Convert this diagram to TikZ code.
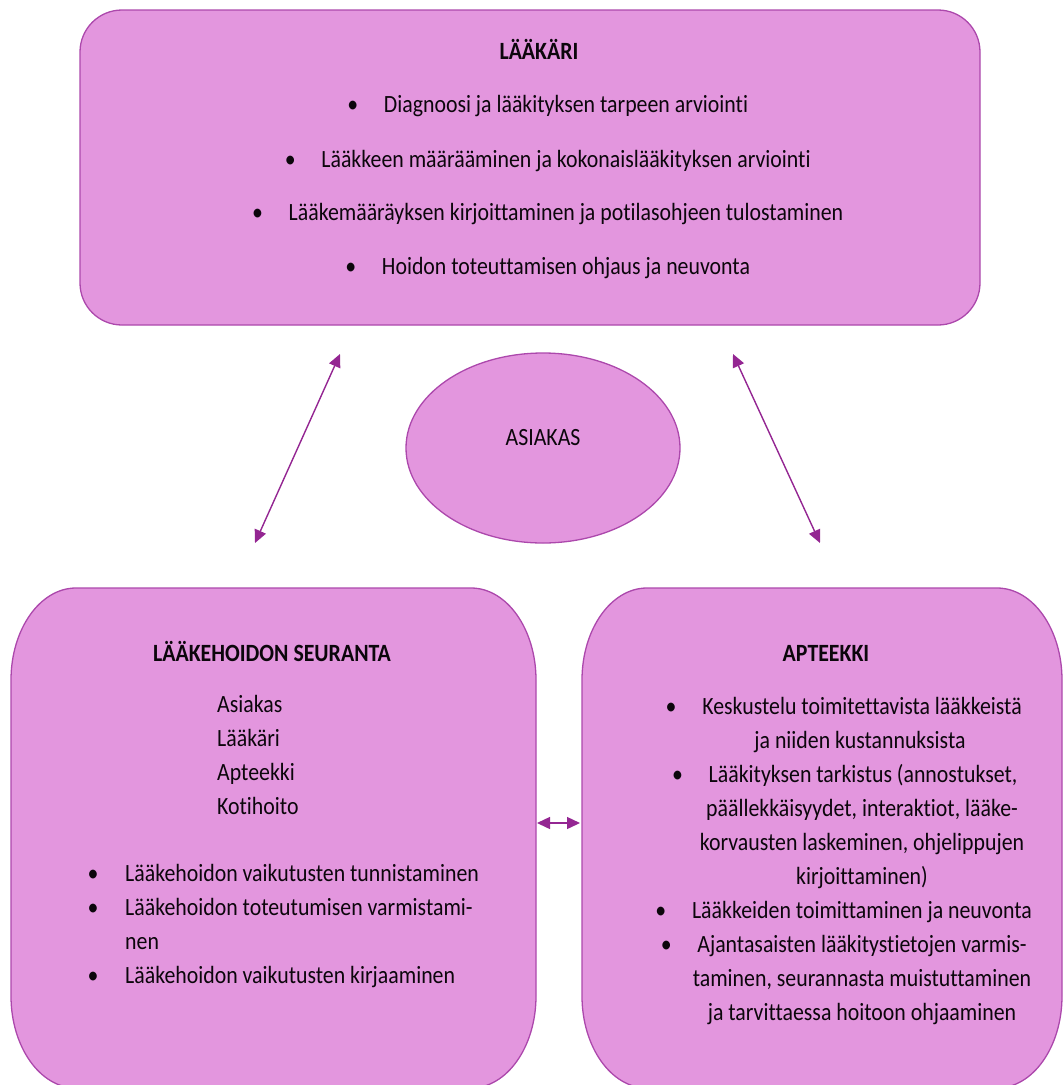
\documentclass[tikz,border=0pt]{standalone}
\usepackage{fontspec}
\setmainfont{Carlito}[FakeStretch=0.88, Ligatures={NoCommon}]
\usetikzlibrary{arrows.meta,shapes.geometric}

\definecolor{panelfill}{RGB}{227,150,222}
\definecolor{panelline}{RGB}{172,72,172}
\definecolor{linkcol}{RGB}{148,38,146}
\definecolor{inkcol}{RGB}{12,6,12}

% rounded rectangle with elliptical corners: left, top, right, bottom, x radius, y radius
\newcommand\roundpanel[6]{%
  (#1+#5,#2) -- (#3-#5,#2)
  arc[start angle=-90,end angle=0,x radius=#5,y radius=#6]
  -- (#3,#4-#6)
  arc[start angle=0,end angle=90,x radius=#5,y radius=#6]
  -- (#1+#5,#4)
  arc[start angle=90,end angle=180,x radius=#5,y radius=#6]
  -- (#1,#2+#6)
  arc[start angle=180,end angle=270,x radius=#5,y radius=#6]
  -- cycle}

\tikzset{
  panel/.style={draw=panelline, fill=panelfill, line width=1.3pt},
  link/.style={draw=linkcol, line width=1.4pt,
    {Triangle[length=13pt,width=12pt]}-{Triangle[length=13pt,width=12pt]}},
  glyphs/.style={inner sep=0pt, anchor=mid, text=inkcol,
    font=\fontsize{24.8}{30}\selectfont},
  line/.style={glyphs, yshift=-5pt},
  lline/.style={line, anchor=mid west},
  head/.style={line, font=\fontsize{24.8}{30}\selectfont\bfseries},
  dot/.style={glyphs, anchor=mid}
}

\begin{document}
\begin{tikzpicture}[x=1pt,y=-1pt]
\useasboundingbox (0,0) rectangle (1064,1085);
\clip (0,0) rectangle (1064,1085);

% panels
\node[panel, rectangle, rounded corners=42pt, minimum width=900pt,
      minimum height=315pt, inner sep=0pt] (laakari) at (530,167.5) {};
\path[panel] \roundpanel{11}{588}{536}{1088}{65}{92};
\path[panel] \roundpanel{582}{588}{1062}{1088}{65}{92};
\coordinate (seuranta) at (273,840);
\coordinate (apteekki) at (822,840);
\node[panel, ellipse, minimum width=274pt, minimum height=190pt,
      inner sep=0pt] (asiakas) at (543,448) {};

% connectors
\coordinate (la) at (340,354);
\coordinate (ls) at (255,543);
\coordinate (ra) at (733,354);
\coordinate (rs) at (820,543);
\coordinate (ms) at (537,823);
\coordinate (ma) at (580,823);
\draw[link] (la) -- (ls);
\draw[link] (ra) -- (rs);
\draw[link] (ms) -- (ma);

% client
\node[line] (asiakasteksti) at (543,438) {ASIAKAS};

% physician
\node[head] (h1) at (539,52) {LÄÄKÄRI};
\node[line] (p1) at (566,105) {Diagnoosi ja lääkityksen tarpeen arviointi};
\node[line] (p2) at (566,160) {Lääkkeen määrääminen ja kokonaislääkityksen arviointi};
\node[line] (p3) at (566,213) {Lääkemääräyksen kirjoittaminen ja potilasohjeen tulostaminen};
\node[line] (p4) at (566,267) {Hoidon toteuttamisen ohjaus ja neuvonta};
\foreach \n in {p1,p2,p3,p4}
  \node[dot] (b\n) at ([xshift=-31pt]\n.mid west) {\textbullet};

% follow-up of medication
\node[head] (h2) at (272,654) {LÄÄKEHOIDON SEURANTA};
\node[lline] (s1) at (217,705) {Asiakas};
\node[lline] (s2) at (217,739) {Lääkäri};
\node[lline] (s3) at (217,773) {Apteekki};
\node[lline] (s4) at (217,807) {Kotihoito};
\node[lline] (s5) at (125,874) {Lääkehoidon vaikutusten tunnistaminen};
\node[lline] (s6) at (125,908) {Lääkehoidon toteutumisen varmistami-};
\node[lline] (s7) at (125,942) {nen};
\node[lline] (s8) at (125,976) {Lääkehoidon vaikutusten kirjaaminen};
\foreach \n in {s5,s6,s8}
  \node[dot] (b\n) at ([xshift=-32pt]\n.mid west) {\textbullet};

% pharmacy
\node[head] (h3) at (826,654) {APTEEKKI};
\node[line] (r1) at (862,707) {Keskustelu toimitettavista lääkkeistä};
\node[line] (r2) at (860,741) {ja niiden kustannuksista};
\node[line] (r3) at (863,775) {Lääkityksen tarkistus (annostukset,};
\node[line] (r4) at (862,809) {päällekkäisyydet, interaktiot, lääke-};
\node[line] (r5) at (862,843) {korvausten laskeminen, ohjelippujen};
\node[line] (r6) at (862,877) {kirjoittaminen)};
\node[line] (r7) at (862,911) {Lääkkeiden toimittaminen ja neuvonta};
\node[line] (r8) at (862,945) {Ajantasaisten lääkitystietojen varmis-};
\node[line] (r9) at (862,979) {taminen, seurannasta muistuttaminen};
\node[line] (r10) at (862,1013) {ja tarvittaessa hoitoon ohjaaminen};
\foreach \n in {r1,r3,r7,r8}
  \node[dot] (b\n) at ([xshift=-31pt]\n.mid west) {\textbullet};
\end{tikzpicture}
\end{document}
